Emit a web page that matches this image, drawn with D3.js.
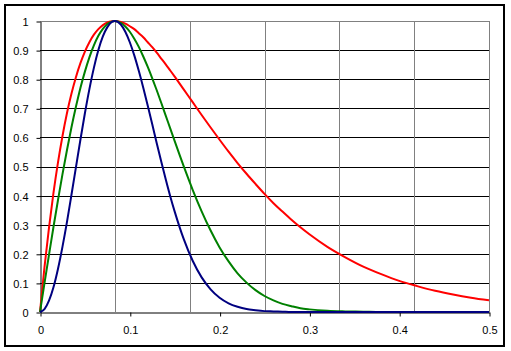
<!DOCTYPE html>
<html>
<head>
<meta charset="utf-8">
<script src="https://cdn.jsdelivr.net/npm/d3@7"></script>
<style>
    body { margin: 0; background: #fff; }
    svg { display: block; }
</style>
</head>
<body>
<div id="chart"></div>
<script>
// x positions of the samples
const xValues = [0, 0.005, 0.01, 0.015, 0.02, 0.025, 0.03, 0.035, 0.04, 0.045,
    0.05, 0.055, 0.06, 0.065, 0.07, 0.075, 0.08, 0.0833, 0.09, 0.095,
    0.1, 0.105, 0.11, 0.115, 0.12, 0.125, 0.13, 0.135, 0.14, 0.145,
    0.15, 0.16, 0.17, 0.18, 0.19, 0.2, 0.21, 0.22, 0.23, 0.24,
    0.25, 0.26, 0.27, 0.28, 0.29, 0.3, 0.32, 0.34, 0.36, 0.38,
    0.4, 0.42, 0.44, 0.46, 0.48, 0.5];

const redValues = [0, 0.154, 0.289, 0.409, 0.513, 0.604, 0.683, 0.750, 0.807, 0.855,
    0.895, 0.927, 0.953, 0.972, 0.986, 0.995, 0.999, 1, 0.997, 0.991,
    0.982, 0.972, 0.958, 0.944, 0.927, 0.910, 0.891, 0.871, 0.851, 0.830,
    0.809, 0.765, 0.721, 0.677, 0.634, 0.592, 0.551, 0.512, 0.475, 0.440,
    0.406, 0.374, 0.345, 0.317, 0.291, 0.267, 0.224, 0.188, 0.156, 0.130,
    0.107, 0.089, 0.073, 0.060, 0.049, 0.040];

const greenValues = [0, 0.099, 0.196, 0.292, 0.384, 0.473, 0.556, 0.634, 0.705, 0.770,
    0.826, 0.875, 0.916, 0.949, 0.973, 0.990, 0.998, 1, 0.994, 0.981,
    0.963, 0.939, 0.911, 0.878, 0.842, 0.803, 0.762, 0.719, 0.675, 0.631,
    0.587, 0.501, 0.420, 0.346, 0.280, 0.222, 0.174, 0.133, 0.101, 0.075,
    0.055, 0.040, 0.028, 0.020, 0.013, 0.009, 0.004, 0.002, 0.001, 0,
    0, 0, 0, 0, 0, 0];

const blueValues = [0, 0.010, 0.039, 0.085, 0.148, 0.224, 0.309, 0.402, 0.497, 0.592,
    0.683, 0.766, 0.839, 0.900, 0.947, 0.979, 0.997, 1, 0.988, 0.963,
    0.927, 0.882, 0.829, 0.771, 0.709, 0.645, 0.580, 0.517, 0.456, 0.398,
    0.345, 0.251, 0.176, 0.119, 0.078, 0.049, 0.030, 0.018, 0.010, 0.006,
    0.003, 0.002, 0.001, 0, 0, 0, 0, 0, 0, 0,
    0, 0, 0, 0, 0, 0];

const xTicks = [0, 0.1, 0.2, 0.3, 0.4, 0.5];
const yTicks = [0, 0.1, 0.2, 0.3, 0.4, 0.5, 0.6, 0.7, 0.8, 0.9, 1];
const xGrid = [0.0833, 0.1667, 0.25, 0.3333, 0.4167, 0.5];

const width = 511;
const height = 351;
const plotLeft = 40, plotRight = 489, plotTop = 21, plotBottom = 312;
const font = "Arial, 'Liberation Sans', sans-serif";

const svg = d3.select("#chart")
    .append("svg")
    .attr("width", width)
    .attr("height", height);

// chart area frame
svg.append("rect")
    .attr("x", 5)
    .attr("y", 5)
    .attr("width", 499)
    .attr("height", 341)
    .attr("fill", "#fff")
    .attr("stroke", "#000")
    .attr("stroke-width", 2);

const xScale = d3.scaleLinear().domain([0, 0.5]).range([plotLeft, plotRight]);
const yScale = d3.scaleLinear().domain([0, 1]).range([plotBottom, plotTop]);

// horizontal gridlines (black), top border gray
for (let i = 1; i < yTicks.length; i++) {
    const y = Math.round(yScale(yTicks[i])) + 0.5;
    svg.append("line")
        .attr("x1", plotLeft).attr("x2", plotRight + 0.5)
        .attr("y1", y).attr("y2", y)
        .attr("stroke", yTicks[i] == 1 ? "#808080" : "#000")
        .attr("stroke-width", 1);
}

// vertical gridlines (gray)
for (let i = 0; i < xGrid.length; i++) {
    const x = Math.round(xScale(xGrid[i])) + 0.5;
    svg.append("line")
        .attr("x1", x).attr("x2", x)
        .attr("y1", plotTop).attr("y2", plotBottom)
        .attr("stroke", "#808080")
        .attr("stroke-width", 1);
}

// axes
const xAxis = svg.append("g")
    .attr("transform", `translate(0.5, ${plotBottom + 0.5})`)
    .call(d3.axisBottom(xScale).tickValues(xTicks).tickSize(4).tickSizeOuter(0).tickPadding(10).tickFormat(d => String(d)));
const yAxis = svg.append("g")
    .attr("transform", `translate(${plotLeft + 0.5}, 0.5)`)
    .call(d3.axisLeft(yScale).tickValues(yTicks).tickSize(4).tickSizeOuter(0).tickPadding(8).tickFormat(d => String(d)));

[xAxis, yAxis].forEach(function (a) {
    a.selectAll("path, line").attr("stroke", "#000");
    a.selectAll("text")
        .attr("fill", "#000")
        .attr("font-family", font)
        .attr("font-size", "11px");
});
yAxis.selectAll("text").attr("dy", "0.36em");

// curves
const series = [
    { values: redValues, color: "#ff0000" },
    { values: greenValues, color: "#008000" },
    { values: blueValues, color: "#000080" }
];

const line = d3.line()
    .x(d => xScale(d[0]))
    .y(d => yScale(d[1]))
    .curve(d3.curveMonotoneX);

for (let s = 0; s < series.length; s++) {
    const pts = xValues.map((x, i) => [x, series[s].values[i]]);
    svg.append("path")
        .datum(pts)
        .attr("d", line)
        .attr("fill", "none")
        .attr("stroke", series[s].color)
        .attr("stroke-width", 2)
        .attr("stroke-linejoin", "round");
}
</script>
</body>
</html>
